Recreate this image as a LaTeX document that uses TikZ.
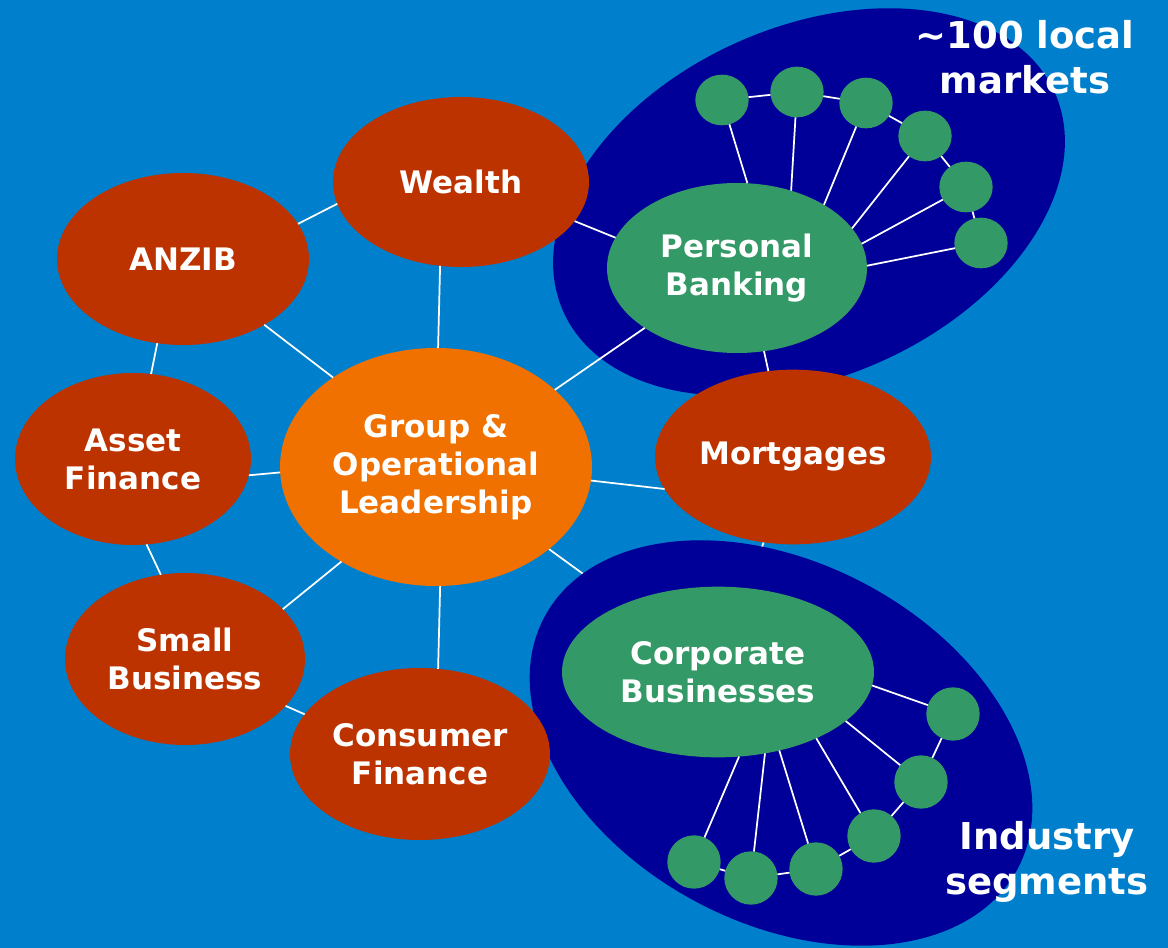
\documentclass[tikz,border=0pt]{standalone}
\usepackage{fontspec}
\setsansfont{DejaVu Sans}
\usetikzlibrary{shapes.geometric,backgrounds}

\definecolor{sky}{RGB}{0,128,204}
\definecolor{navy}{RGB}{0,0,153}
\definecolor{rust}{RGB}{189,51,0}
\definecolor{amber}{RGB}{240,112,0}
\definecolor{jade}{RGB}{51,153,102}

\begin{document}
\begin{tikzpicture}[x=0.75pt,y=-0.75pt,font=\sffamily\bfseries,
    blob/.style={ellipse,fill=#1,text=white,align=center,inner sep=0pt,outer sep=0pt,
      font=\sffamily\bfseries\fontsize{23.25}{28.5}\selectfont},
    market/.style={ellipse,fill=jade,minimum width=40pt,minimum height=38pt,inner sep=0pt,outer sep=0pt},
    cloud/.style={ellipse,fill=navy,inner sep=0pt,outer sep=0pt},
    link/.style={draw=white,line width=1.3pt},
    tag/.style={text=white,align=center,font=\sffamily\bfseries\fontsize{27.75}{34}\selectfont}]
        \useasboundingbox (0,0) rectangle (1168,948);

        % business units
        \node[blob=rust,minimum width=192pt,minimum height=127.5pt] (wealth) at (461,182) {Wealth};
        \node[blob=rust,minimum width=189pt,minimum height=129pt] (anzib) at (183,259) {ANZIB};
        \node[blob=rust,minimum width=177pt,minimum height=129pt] (asset) at (133,459) {Asset\\Finance};
        \node[blob=amber,minimum width=234pt,minimum height=178.5pt] (group) at (436,467) {Group \&\\Operational\\Leadership};
        \node[blob=rust,minimum width=180pt,minimum height=129pt] (smallbiz) at (185,659) {Small\\Business};
        \node[blob=rust,minimum width=195pt,minimum height=129pt] (consumer) at (420,754) {Consumer\\Finance};
        \node[blob=rust,minimum width=207pt,minimum height=131pt] (mortgages) at (793,457) {Mortgages};
        \node[blob=jade,minimum width=195pt,minimum height=127.5pt] (personal) at (737,268) {Personal\\Banking};
        \node[blob=jade,minimum width=234pt,minimum height=128pt] (corporate) at (718,672) {Corporate\\Businesses};

        % links between units
        \draw[link] (wealth.190) -- (anzib.17);
        \draw[link] (wealth.256) -- (group.89);
        \draw[link] (wealth.341) -- (personal.166);
        \draw[link] (anzib.321) -- (group.139);
        \draw[link] (anzib.253) -- (asset.78);
        \draw[link] (asset.352) -- (group.182);
        \draw[link] (asset.279) -- (smallbiz.106);
        \draw[link] (smallbiz.27) -- (group.225);
        \draw[link] (smallbiz.335) -- (consumer.161);
        \draw[link] (consumer.78) -- (group.272);
        \draw[link] (group.355) -- (mortgages.194);
        \draw[link] (group.33) -- (personal.213);
        \draw[link] (personal.288) -- (mortgages.106);

        % local markets
        \foreach \i/\x/\y in {1/722/100,2/797/92,3/866/103,4/925/136,5/966/187,6/981/243}
          \node[market] (m\i) at (\x,\y) {};
        \foreach \i/\a in {1/83,2/55,3/36,4/19,5/11,6/1}
          \draw[link] (personal.\a) -- (m\i);
        \foreach \i/\j in {1/2,2/3,3/4,4/5,5/6}
          \draw[link] (m\i) -- (m\j);

        % industry segments
        \foreach \i/\x/\y in {1/953/714,2/921/782,3/874/836,4/816/869,5/751/878,6/694/862}
          \node[market,minimum height=40pt] (s\i) at (\x,\y) {};
        \foreach \i/\a in {1/355,2/339,3/326,4/308,5/300,6/284}
          \draw[link] (corporate.\a) -- (s\i);
        \foreach \i/\j in {1/2,2/3,3/4,4/5,5/6}
          \draw[link] (s\i) -- (s\j);

        \node[tag] (mktlabel) at (1025,57) {\textasciitilde100 local\\markets};
        \node[tag] (seglabel) at (1047,862) {Industry\\segments};

        \begin{scope}[on background layer]
          \fill[sky] (0,0) rectangle (1168,948);
          \node[cloud,minimum width=403.5pt,minimum height=262.5pt,rotate=24] (localmkts) at (809,202) {};
          \draw[link] (group.324) -- (corporate);
          \draw[link] (mortgages.251) -- (corporate);
          \node[cloud,minimum width=402pt,minimum height=270pt,rotate=-28] (segments) at (781,743) {};
        \end{scope}
\end{tikzpicture}
\end{document}
